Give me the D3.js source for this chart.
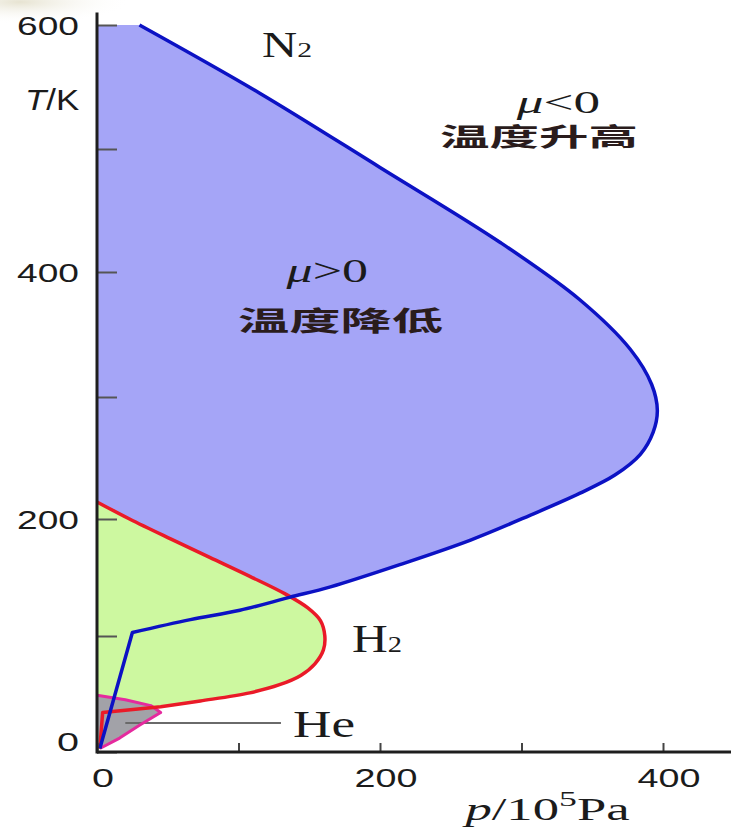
<!DOCTYPE html>
<html>
<head>
<meta charset="utf-8">
<script src="https://cdn.jsdelivr.net/npm/d3@7"></script>
<style>
  html, body { margin: 0; padding: 0; background: #fff; }
  svg { display: block; }
</style>
</head>
<body>
<div id="chart"></div>
<script>
// ---------------- data ----------------
// N2 inversion curve (p in 10^5 Pa, T in K)
const n2P = [30, 115, 200, 285, 341, 377, 392, 396, 393, 384, 366, 341, 306, 264, 214, 165, 136, 101, 66, 25];
const n2T = [600, 545, 485, 424, 378, 338, 310, 289, 271, 253, 236, 221, 203, 182, 161, 142, 133, 122, 114, 103];
const n2TailP = [2];
const n2TailT = [3];
// H2 inversion curve
const h2P = [0, 23, 52, 80, 108, 133, 149, 158, 161, 160, 154, 144, 129, 108, 73, 45];
const h2T = [214, 200, 183, 167, 151, 136, 124, 113, 100, 88, 76, 66, 58, 51, 44, 39];
const h2TailP = [4, 2];
const h2TailT = [34, 3];
// He inversion curve
const heP = [0, 20, 38, 45, 30, 16, 2];
const heT = [49, 45, 40, 34, 23, 12, 3];
// He leader line
const heLeaderP = [20, 130];
const heLeaderT = [25, 25];
// axis ticks
const yTicks = [0, 100, 200, 300, 400, 500, 600];
const yTickLabels = [0, 200, 400, 600];
const xTicks = [0, 100, 200, 300, 400];
const xTickLabels = [0, 200, 400];

// ---------------- setup ----------------
const W = 731, H = 829;
const svg = d3.select("#chart").append("svg").attr("width", W).attr("height", H);

// faint scan tint at the top-left corner
const defs = svg.append("defs");
const rg = defs.append("radialGradient").attr("id", "tint");
rg.append("stop").attr("offset", "0%").attr("stop-color", "#e4e0cc").attr("stop-opacity", 0.9);
rg.append("stop").attr("offset", "100%").attr("stop-color", "#ffffff").attr("stop-opacity", 0);
svg.append("ellipse").attr("cx", 20).attr("cy", 2).attr("rx", 110).attr("ry", 22).attr("fill", "url(#tint)");

const x = d3.scaleLinear().domain([0, 400]).range([97, 663]);
// tick marks in the picture are not evenly spaced; read the scale piecewise from them
const y = d3.scaleLinear().domain(yTicks).range([752, 636, 519, 397, 272, 149, 25]);

const zip = (P, T) => P.map((p, i) => ({p, T: T[i]}));
const n2 = zip(n2P, n2T), n2Tail = zip(n2TailP, n2TailT);
const h2 = zip(h2P, h2T), h2Tail = zip(h2TailP, h2TailT);
const he = zip(heP, heT);

const smooth = d3.line().x(d => x(d.p)).y(d => y(d.T)).curve(d3.curveCatmullRom.alpha(0.5));
const straight = d3.line().x(d => x(d.p)).y(d => y(d.T));
const tailStr = pts => pts.map(d => `L${x(d.p)},${y(d.T)}`).join("");

// ---------------- fills ----------------
const BLUE_FILL = "#a5a5f7", GREEN_FILL = "#cdf8a0", GRAY_FILL = "#a2a2a8";
const BLUE = "#0c12c4", RED = "#ea1a28", MAGENTA = "#e52a9e";

// N2 region
svg.append("path")
  .attr("d", `M${x(0)},${y(n2[0].T)}L` + smooth(n2).slice(1) + tailStr(n2Tail) + `L${x(0)},${y(0)}Z`)
  .attr("fill", BLUE_FILL);
// H2 region
svg.append("path")
  .attr("d", smooth(h2) + tailStr(h2Tail) + `L${x(0)},${y(0)}Z`)
  .attr("fill", GREEN_FILL);
// He region
svg.append("path")
  .attr("d", straight(he) + `L${x(0)},${y(0)}Z`)
  .attr("fill", GRAY_FILL);

// He leader line
svg.append("path")
  .attr("d", straight(zip(heLeaderP, heLeaderT)))
  .attr("stroke", "#6a6a6a").attr("stroke-width", 2).attr("fill", "none");

// ---------------- curves ----------------
svg.append("path").attr("d", straight(he))
  .attr("stroke", MAGENTA).attr("stroke-width", 3).attr("fill", "none").attr("stroke-linejoin", "round");
svg.append("path").attr("d", smooth(h2) + tailStr(h2Tail))
  .attr("stroke", RED).attr("stroke-width", 3.5).attr("fill", "none").attr("stroke-linejoin", "round");
svg.append("path").attr("d", smooth(n2) + tailStr(n2Tail))
  .attr("stroke", BLUE).attr("stroke-width", 3.5).attr("fill", "none").attr("stroke-linejoin", "round");

// ---------------- axes ----------------
const AX = "#1e1e1e";
const yAxis = d3.axisRight(y).tickValues(yTicks).tickSize(20).tickFormat("");
svg.append("g").attr("transform", `translate(${x(0)},0)`).call(yAxis)
  .call(g => g.select(".domain").remove())
  .call(g => g.selectAll(".tick line").attr("stroke", "#555").attr("stroke-width", 2));
const xAxis = d3.axisTop(x).tickValues(xTicks).tickSize(9).tickFormat("");
svg.append("g").attr("transform", `translate(0,${y(0)})`).call(xAxis)
  .call(g => g.select(".domain").remove())
  .call(g => g.selectAll(".tick line").attr("stroke", "#444").attr("stroke-width", 2));

svg.append("line").attr("x1", x(0)).attr("x2", W).attr("y1", y(0)).attr("y2", y(0))
  .attr("stroke", AX).attr("stroke-width", 3);
svg.append("line").attr("x1", x(0)).attr("x2", x(0)).attr("y1", y(0) + 1.5).attr("y2", y(610))
  .attr("stroke", AX).attr("stroke-width", 3);

// ---------------- text helper ----------------
// draws text with its left edge at `left`, baseline at `base`, stretched to width `w`
function label(build, left, base, w) {
  const g = svg.append("g");
  const t = g.append("text").attr("x", 0).attr("y", 0);
  build(t);
  const bb = t.node().getBBox();
  const sx = w / bb.width;
  g.attr("transform", `translate(${left - bb.x * sx},${base}) scale(${sx},1)`);
  return g;
}
const SANS = "'Liberation Sans', Arial, sans-serif";
const SERIF = "'Liberation Serif', 'Times New Roman', serif";
const CJK = "'Noto Sans CJK SC', sans-serif";
const INK = "#1b1b1b";

// y tick labels
yTickLabels.forEach(v => {
  const s = String(v);
  const w = s.length === 1 ? 22 : 62;
  label(t => t.text(s).attr("font-family", SANS).attr("font-size", 25).attr("fill", INK),
        79 - w, y(v) + (v === 0 ? -1 : 10), w);
});
// x tick labels
xTickLabels.forEach(v => {
  const s = String(v);
  const w = s.length === 1 ? 22 : 63;
  label(t => t.text(s).attr("font-family", SANS).attr("font-size", 25).attr("fill", INK),
        x(v) + 6 - w / 2, 787, w);
});

// axis titles
label(t => {
  t.attr("font-family", SANS).attr("font-size", 29).attr("fill", INK);
  t.append("tspan").attr("font-style", "italic").text("T");
  t.append("tspan").text("/K");
}, 25, 110, 55);

label(t => {
  t.attr("font-family", SERIF).attr("font-size", 31).attr("fill", INK);
  t.append("tspan").attr("font-style", "italic").text("p");
  t.append("tspan").text("/10");
  t.append("tspan").attr("font-size", 21).attr("dy", -14).text("5");
  t.append("tspan").attr("dy", 14).text("Pa");
}, 462, 820, 168);

// region labels
label(t => {
  t.attr("font-family", SERIF).attr("fill", INK);
  t.append("tspan").attr("font-size", 36).text("N");
  t.append("tspan").attr("font-size", 22).text("2");
}, 262, 57, 50);

label(t => {
  t.attr("font-family", SERIF).attr("fill", INK);
  t.append("tspan").attr("font-size", 40).text("H");
  t.append("tspan").attr("font-size", 23).text("2");
}, 352, 652, 50);

label(t => t.text("He").attr("font-family", SERIF).attr("font-size", 37).attr("fill", INK), 293, 737, 62);

label(t => {
  t.attr("font-family", SERIF).attr("font-size", 32).attr("fill", INK);
  t.append("tspan").attr("font-style", "italic").text("μ");
  t.append("tspan").text("<0");
}, 515, 113, 85);
label(t => t.text("温度升高").attr("font-family", CJK).attr("font-weight", "bold").attr("font-size", 25).attr("fill", "#2a1c1c"),
      440, 146, 198);

label(t => {
  t.attr("font-family", SERIF).attr("font-size", 34).attr("fill", INK);
  t.append("tspan").attr("font-style", "italic").text("μ");
  t.append("tspan").text(">0");
}, 285, 282, 83);
label(t => t.text("温度降低").attr("font-family", CJK).attr("font-weight", "bold").attr("font-size", 27).attr("fill", "#2a1c1c"),
      238, 331, 205);
</script>
</body>
</html>
